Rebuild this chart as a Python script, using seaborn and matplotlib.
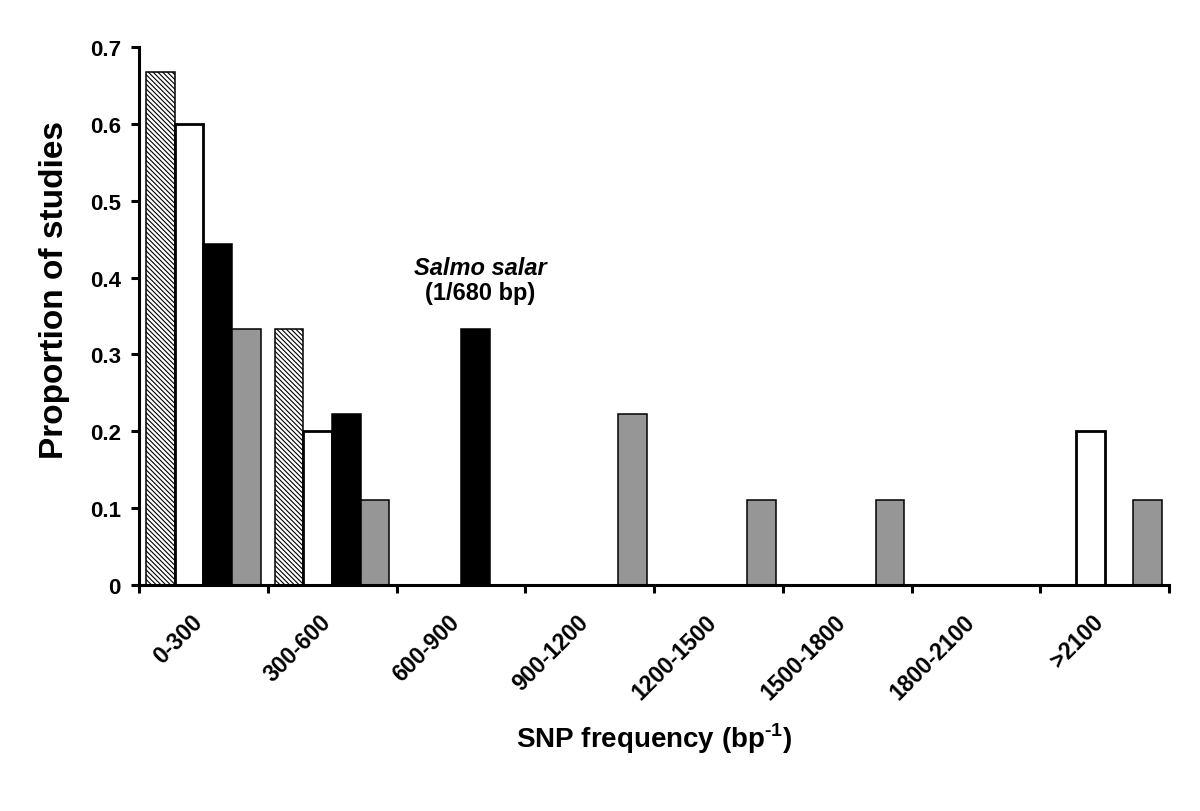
"""
Grouped bar chart of SNP frequency classes (proportion of studies).
"""

import matplotlib
matplotlib.use("Agg")
import matplotlib.pyplot as plt
import seaborn as sns
import pandas as pd
import numpy as np

# data
categories = ["0-300", "300-600", "600-900", "900-1200",
              "1200-1500", "1500-1800", "1800-2100", ">2100"]
groups = ["A", "B", "C", "D"]
series_a = [0.667, 0.333, 0, 0, 0, 0, 0, 0]        # hatched
series_b = [0.600, 0.200, 0, 0, 0, 0, 0, 0.200]    # white
series_c = [0.444, 0.222, 0.333, 0, 0, 0, 0, 0]    # black
series_d = [0.333, 0.111, 0, 0.222, 0.111, 0.111, 0, 0.111]  # gray
y_ticks = [0, 0.1, 0.2, 0.3, 0.4, 0.5, 0.6, 0.7]

sns.set_theme(style="white")
plt.rcParams['font.family'] = ['Liberation Sans', 'DejaVu Sans']
plt.rcParams['mathtext.fontset'] = 'custom'
plt.rcParams['mathtext.rm'] = 'Liberation Sans:bold'
plt.rcParams['mathtext.bf'] = 'Liberation Sans:bold'
plt.rcParams['hatch.linewidth'] = 0.8
plt.rcParams['hatch.color'] = 'black'
for key in ['text.color', 'axes.labelcolor', 'xtick.color', 'ytick.color']:
    plt.rcParams[key] = 'black'

rows = []
for g, vals in zip(groups, [series_a, series_b, series_c, series_d]):
    for cat, v in zip(categories, vals):
        rows.append({"category": cat, "group": g, "value": v})
df = pd.DataFrame(rows)

fig = plt.figure(figsize=(12, 8.12), dpi=100)
ax = fig.add_axes([139 / 1200, 0.2783, 1030 / 1200, 0.6626])

palette = {"A": "white", "B": "white", "C": "black", "D": "#969696"}
sns.barplot(data=df, x="category", y="value", hue="group", order=categories,
            hue_order=groups, palette=palette, width=0.89, gap=0,
            edgecolor="black", linewidth=1.1, saturation=1, legend=False, ax=ax)

# hatched first series, heavier outline on the white series
for bar in ax.containers[0]:
    bar.set_hatch("\\" * 7)
for bar in ax.containers[1]:
    bar.set_linewidth(2.0)

ax.set_xlim(-0.5, len(categories) - 0.5)
ax.set_ylim(0, 0.7)
ax.set_yticks(y_ticks)
ax.set_yticklabels(["0" if t == 0 else f"{t:.1f}" for t in y_ticks])

# category labels near centers, tick marks at group boundaries
ax.set_xticks(np.arange(len(categories)) - 0.1)
ax.set_xticklabels(categories, rotation=45, ha="right", rotation_mode="anchor",
                   fontsize=16.5, fontweight="bold")
ax.set_xticks(np.arange(len(categories) + 1) - 0.5, minor=True)
ax.tick_params(axis="x", which="major", length=0, pad=18)
ax.tick_params(axis="x", which="minor", length=6, width=2.2, direction="out",
               bottom=True, color="black")
ax.tick_params(axis="y", length=6, width=2.2, direction="out", left=True,
               labelsize=16, pad=7, color="black")
for lbl in ax.get_yticklabels():
    lbl.set_fontweight("bold")

sns.despine(ax=ax)
for side in ["left", "bottom"]:
    ax.spines[side].set_linewidth(2.2)
    ax.spines[side].set_color("black")

ax.set_xlabel(r"SNP frequency (bp$^{\text{-1}}$)", fontsize=20,
              fontweight="bold", va="baseline")
ax.xaxis.set_label_coords(0.5, -0.301)
ax.set_ylabel("Proportion of studies", fontsize=24, fontweight="bold",
              va="center")
ax.yaxis.set_label_coords(-0.082, 0.55)

ax.text(2.15, 0.405, "Salmo salar", ha="center", va="baseline", fontsize=17,
        fontweight="bold", fontstyle="italic")
ax.text(2.15, 0.372, "(1/680 bp)", ha="center", va="baseline", fontsize=17,
        fontweight="bold")

fig.savefig("out.png", dpi=100, facecolor="white")
